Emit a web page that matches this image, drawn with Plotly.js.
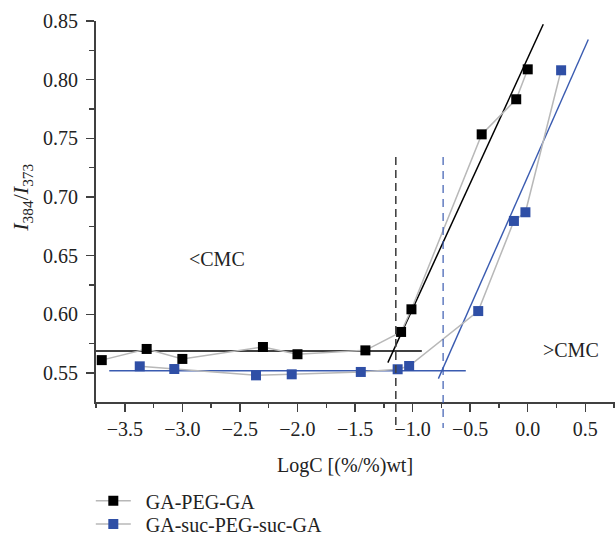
<!DOCTYPE html>
<html>
<head>
<meta charset="utf-8">
<script src="https://cdn.plot.ly/plotly-3.0.1.min.js"></script>
<style>html,body{margin:0;padding:0;background:#fff;}#chart{width:615px;height:535px;}</style>
</head>
<body>
<div id="chart"></div>
<script>
// Measured series
const seriesNames = ["GA-PEG-GA", "GA-suc-PEG-suc-GA"];
const logC_A = [-3.70, -3.31, -3.00, -2.30, -2.00, -1.41, -1.10, -1.01, -0.40, -0.10, 0.00];
const ratio_A = [0.561, 0.5705, 0.562, 0.5722, 0.566, 0.5693, 0.585, 0.6043, 0.7534, 0.7833, 0.8088];
const logC_B = [-3.37, -3.07, -2.36, -2.05, -1.45, -1.13, -1.03, -0.43, -0.12, -0.02, 0.29];
const ratio_B = [0.5557, 0.5534, 0.548, 0.5489, 0.5509, 0.5532, 0.556, 0.6028, 0.6796, 0.687, 0.808];

// Fitted lines (endpoints)
const fitA_flat_x = [-3.75, -0.92];
const fitA_flat_y = [0.5687, 0.5687];
const fitA_steep_x = [-1.215, 0.135];
const fitA_steep_y = [0.5589, 0.8472];
const fitB_flat_x = [-3.635, -0.538];
const fitB_flat_y = [0.5519, 0.5519];
const fitB_steep_x = [-0.776, 0.526];
const fitB_steep_y = [0.5452, 0.8342];

// CMC markers
const cmcX = [-1.146, -0.735];
const cmcTop = 0.734;

const xRange = [-3.75, 0.758];
const yRange = [0.5253, 0.85];

const colA = "#000000";
const colB = "#2f4fa6";
const colBLine = "#3a5bb0";
const gray = "#b8b8b8";
const font = "Liberation Serif, Times New Roman, serif";
const fs = 20;

const fitStyleA = {color: colA, width: 1.5};
const fitStyleB = {color: colBLine, width: 1.4};

const traces = [
  {x: fitA_flat_x, y: fitA_flat_y, mode: "lines", line: fitStyleA, showlegend: false, hoverinfo: "skip"},
  {x: fitA_steep_x, y: fitA_steep_y, mode: "lines", line: fitStyleA, showlegend: false, hoverinfo: "skip"},
  {x: fitB_flat_x, y: fitB_flat_y, mode: "lines", line: fitStyleB, showlegend: false, hoverinfo: "skip"},
  {x: fitB_steep_x, y: fitB_steep_y, mode: "lines", line: fitStyleB, showlegend: false, hoverinfo: "skip"},
  {x: logC_A, y: ratio_A, name: "&nbsp;&nbsp;" + seriesNames[0], mode: "lines+markers", legend: "legend",
   line: {color: gray, width: 1.5}, marker: {symbol: "square", size: 10, color: colA}},
  {x: logC_B, y: ratio_B, name: "&nbsp;&nbsp;" + seriesNames[1], mode: "lines+markers", legend: "legend2",
   line: {color: gray, width: 1.5}, marker: {symbol: "square", size: 10, color: colB}}
];

function toPaperY(v) { return (v - yRange[0]) / (yRange[1] - yRange[0]); }

const shapes = [
  {type: "line", xref: "x", yref: "paper", x0: cmcX[0], x1: cmcX[0], y0: toPaperY(cmcTop), y1: -0.068,
   line: {color: "#444444", width: 1.6, dash: "8px,5px"}},
  {type: "line", xref: "x", yref: "paper", x0: cmcX[1], x1: cmcX[1], y0: toPaperY(cmcTop), y1: -0.068,
   line: {color: colBLine, width: 1.2, dash: "8px,6px"}}
];

const axisCommon = {
  showgrid: false, zeroline: false, showline: true, linecolor: "#404040", linewidth: 2,
  ticks: "outside", ticklen: 8, tickwidth: 1.5, tickcolor: "#404040",
  tickfont: {family: font, size: fs, color: "#222"}
};

const legendCommon = {xref: "paper", yref: "container", x: -0.01, xanchor: "left", yanchor: "middle",
  bgcolor: "rgba(0,0,0,0)", font: {family: font, size: fs, color: "#222"}, itemwidth: 35};

const layout = {
  width: 615, height: 535,
  margin: {l: 96, r: 0, t: 21, b: 133},
  paper_bgcolor: "#fff", plot_bgcolor: "#fff",
  font: {family: font, size: fs, color: "#222"},
  xaxis: Object.assign({}, axisCommon, {
    range: xRange, tick0: 0, dtick: 0.5, tickformat: ".1f",
    minor: {dtick: 0.25, ticks: "outside", ticklen: 4, tickwidth: 1.5, tickcolor: "#404040"}
  }),
  yaxis: Object.assign({}, axisCommon, {
    range: yRange, tick0: 0.55, dtick: 0.05, tickformat: ".2f", ticklabelstandoff: 4,
    minor: {dtick: 0.025, ticks: "outside", ticklen: 5, tickwidth: 1.5, tickcolor: "#404040"}
  }),
  shapes: shapes,
  annotations: [
    {xref: "x", yref: "y", x: -2.70, y: 0.6469, text: "&lt;CMC", showarrow: false,
     xanchor: "center", yanchor: "middle", font: {family: font, size: fs, color: "#222"}},
    {xref: "x", yref: "y", x: 0.376, y: 0.5693, text: "&gt;CMC", showarrow: false,
     xanchor: "center", yanchor: "middle", font: {family: font, size: fs, color: "#222"}},
    {xref: "paper", yref: "paper", x: 0.48, y: -0.166, text: "LogC [(%/%)wt]", showarrow: false,
     xanchor: "center", yanchor: "middle", font: {family: font, size: fs, color: "#222"}},
    {xref: "paper", yref: "paper", x: -0.142, y: 0.537, textangle: -90,
     xanchor: "center", yanchor: "middle",
     text: "<i>I</i><sub>384</sub>/<i>I</i><sub>373</sub>", showarrow: false,
     font: {family: font, size: 22, color: "#222"}}
  ],
  legend: Object.assign({}, legendCommon, {y: 0.0641}),
  legend2: Object.assign({}, legendCommon, {y: 0.0206})
};

Plotly.newPlot("chart", traces, layout, {displayModeBar: false, staticPlot: true});
</script>
</body>
</html>
